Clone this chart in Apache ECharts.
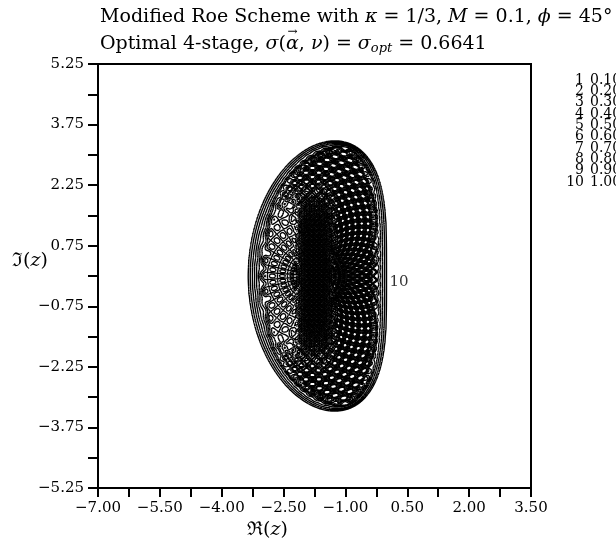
<!DOCTYPE html>
<html>
<head>
<meta charset="utf-8">
<script src="https://cdn.jsdelivr.net/npm/echarts@6/dist/echarts.min.js"></script>
<style>
  html, body { margin: 0; padding: 0; background: #fff; }
  #chart { width: 616px; height: 543px; }
</style>
</head>
<body>
<div id="chart"></div>
<script>
// ---- data -------------------------------------------------------------
// contour levels of the damping field, numbered 1..10 in the key
const levels   = [0.1, 0.2, 0.3, 0.4, 0.5, 0.6, 0.7, 0.8, 0.9, 1.0];
const levelIds = [1, 2, 3, 4, 5, 6, 7, 8, 9, 10];

// axis ticks and labelled ticks
const xTicks  = [-7, -6.25, -5.5, -4.75, -4, -3.25, -2.5, -1.75, -1, -0.25, 0.5, 1.25, 2, 2.75, 3.5];
const xLabels = [-7, -5.5, -4, -2.5, -1, 0.5, 2, 3.5];
const yTicks  = [-5.25, -4.5, -3.75, -3, -2.25, -1.5, -0.75, 0, 0.75, 1.5, 2.25, 3, 3.75, 4.5, 5.25];
const yLabels = [-5.25, -3.75, -2.25, -0.75, 0.75, 2.25, 3.75, 5.25];

// upwind-biased kappa scheme and the scaling of its Fourier footprint
const kappa = 1 / 3;
const footprintScale = [2.52, 2.44];   // real, imaginary

// contour label beside the outermost line: [Re, Im, text]
const contourLabels = [[0.30, -0.15, '10']];

// ---- layout -----------------------------------------------------------
const W = 616, H = 543;
const G = { left: 98, right: 85, top: 64, bottom: 55 };
const X_MIN = -7, X_MAX = 3.5, Y_MIN = -5.25, Y_MAX = 5.25;
const KX = (W - G.left - G.right) / (X_MAX - X_MIN);   // px per unit
const KY = (H - G.top - G.bottom) / (Y_MAX - Y_MIN);

// ---- footprint boundary (outermost contour) ---------------------------
const NB = 360;
const bnd = [];   // [pxX, pxY, theta]
for (let k = 0; k <= NB; k++) {
  const th = -Math.PI + 2 * Math.PI * k / NB;
  const c = Math.cos(th), s = Math.sin(th);
  const re = -footprintScale[0] * (1 - kappa) / 2 * (1 - c) * (1 - c);
  const im = footprintScale[1] * s * (1 + (1 - kappa) / 2 * (1 - c));
  bnd.push([re * KX, im * KY, th]);
}

// damping pattern inside the footprint
const PC = [-1.80, 0];
const sig = t => 1 / (1 + Math.exp(-t));
function interior(x, y) {
  const X = x * KX, Y = y * KY;
  const rx = (x - PC[0]) * KX, ry = (y - PC[1]) * KY;
  const r = Math.hypot(rx, ry), a = Math.atan2(ry, rx);
  const g1 = Math.cos(2 * Math.PI * r / 20) * Math.cos(20 * a);   // fan of cells
  const g2 = Math.cos(2 * Math.PI * X / 5) * Math.cos(2 * Math.PI * Y / 5);     // dense core
  const g3 = Math.cos(2 * Math.PI * r / 9) * Math.cos(50 * a);    // dotted rings
  const wL = sig(-(x + 2.12) / 0.07) * Math.exp(-Math.pow(y / 2.2, 6));
  const wC = Math.exp(-Math.pow((x + 1.72) / 0.44, 4)) * Math.exp(-Math.pow(y / 2.1, 6));
  const wD = Math.max(0, 1 - wL - wC);
  return 0.2 + wL * 0.18 * g1 + wC * 0.34 * g2 + wD * 0.36 * g3;
}

// sample the field on a 1-px lattice
const gx0 = -3.8, gx1 = 0.45, gy0 = -3.7, gy1 = 3.7;
const sx = 1 / KX, sy = 1 / KY;
const nx = Math.ceil((gx1 - gx0) / sx) + 1, ny = Math.ceil((gy1 - gy0) / sy) + 1;
const field = new Float32Array(nx * ny);
for (let j = 0; j < ny; j++) {
  const y = gy0 + j * sy, Y = y * KY;
  for (let i = 0; i < nx; i++) {
    const x = gx0 + i * sx, X = x * KX;
    let best = Infinity, bth = 0, inside = false;
    for (let k = 0; k < NB; k++) {
      const ax = bnd[k][0], ay = bnd[k][1], bx = bnd[k + 1][0], by = bnd[k + 1][1];
      if ((ay > Y) !== (by > Y)) {
        const xc = ax + (Y - ay) * (bx - ax) / (by - ay);
        if (X < xc) inside = !inside;
      }
      const ex = bx - ax, ey = by - ay;
      let t = ((X - ax) * ex + (Y - ay) * ey) / (ex * ex + ey * ey);
      t = t < 0 ? 0 : t > 1 ? 1 : t;
      const qx = ax + t * ex - X, qy = ay + t * ey - Y;
      const d2 = qx * qx + qy * qy;
      if (d2 < best) { best = d2; bth = bnd[k][2]; }
    }
    const d = Math.sqrt(best);
    let v;
    if (!inside) {
      v = 1 + d / 10;
    } else {
      const w = 8 + 9 * Math.pow(Math.abs(Math.cos(bth)), 0.7);
      const t = 1 - d / w;
      let fi = interior(x, y);
      if (t > 0) {
        fi = 0.2 + (fi - 0.2) * (1 - t) * (1 - t);   // calm the pattern near the rim
        v = fi + (1 - fi) * t;
      } else {
        v = fi;
      }
    }
    field[j * nx + i] = v;
  }
}

// marching squares -> line segments in data coordinates
function contour(L, out) {
  for (let j = 0; j < ny - 1; j++) {
    const y = gy0 + j * sy;
    for (let i = 0; i < nx - 1; i++) {
      const x = gx0 + i * sx;
      const v0 = field[j * nx + i], v1 = field[j * nx + i + 1];
      const v2 = field[(j + 1) * nx + i + 1], v3 = field[(j + 1) * nx + i];
      const c = (v0 > L ? 1 : 0) | (v1 > L ? 2 : 0) | (v2 > L ? 4 : 0) | (v3 > L ? 8 : 0);
      if (c === 0 || c === 15) continue;
      const P = (e) => {
        if (e === 0) return [x + sx * (L - v0) / (v1 - v0), y];
        if (e === 1) return [x + sx, y + sy * (L - v1) / (v2 - v1)];
        if (e === 2) return [x + sx * (L - v3) / (v2 - v3), y + sy];
        return [x, y + sy * (L - v0) / (v3 - v0)];
      };
      const seg = (a, b) => out.push({ coords: [P(a), P(b)] });
      const mid = (v0 + v1 + v2 + v3) / 4;
      switch (c) {
        case 1: case 14: seg(3, 0); break;
        case 2: case 13: seg(0, 1); break;
        case 3: case 12: seg(3, 1); break;
        case 4: case 11: seg(1, 2); break;
        case 6: case 9: seg(0, 2); break;
        case 7: case 8: seg(2, 3); break;
        case 5: if (mid > L) { seg(0, 1); seg(2, 3); } else { seg(3, 0); seg(1, 2); } break;
        case 10: if (mid > L) { seg(3, 0); seg(1, 2); } else { seg(0, 1); seg(2, 3); } break;
      }
    }
  }
}
const segs = [];
levels.forEach(L => contour(L, segs));

// ---- chart ------------------------------------------------------------
const SERIF = '"DejaVu Serif", "Liberation Serif", serif';
const fmt = v => (v < 0 ? '\u2212' : '') + Math.abs(v).toFixed(2);

const keyTexts = [];
levels.forEach((L, k) => {
  const y = 81 + k * 11.35;
  keyTexts.push({ type: 'text', right: W - 584, top: y - 8, silent: true,
    style: { text: String(levelIds[k]), font: '14px ' + SERIF, fill: '#000', textAlign: 'right' } });
  keyTexts.push({ type: 'text', left: 590, top: y - 8, silent: true,
    style: { text: L.toFixed(3), font: '14px ' + SERIF, fill: '#000' } });
});

const TF = 19;
const rich = {
  n: { fontFamily: SERIF, fontSize: TF, color: '#000' },
  i: { fontFamily: SERIF, fontSize: TF, fontStyle: 'italic', color: '#000' },
  s: { fontFamily: SERIF, fontSize: 13, fontStyle: 'italic', color: '#000', padding: [9, 0, 0, 0] }
};

// position of the vector arrow over alpha in the second title line
const mctx = document.createElement('canvas').getContext('2d');
const mw = (s, it) => { mctx.font = (it ? 'italic ' : '') + TF + 'px ' + SERIF; return mctx.measureText(s).width; };
const alphaX = 100 + mw('Optimal 4-stage, ') + mw('σ', true) + mw('(');
const alphaW = mw('α', true);

const chart = echarts.init(document.getElementById('chart'), null, { renderer: 'canvas' });
chart.setOption({
  animation: false,
  backgroundColor: '#fff',
  grid: { left: G.left, right: G.right, top: G.top, bottom: G.bottom, show: true, borderColor: '#000', borderWidth: 2, backgroundColor: 'transparent' },
  xAxis: {
    type: 'value', min: X_MIN, max: X_MAX,
    splitLine: { show: false },
    axisLine: { onZero: false, lineStyle: { color: '#000', width: 2 } },
    axisTick: { customValues: xTicks, length: 9, lineStyle: { color: '#000', width: 2 } },
    axisLabel: { customValues: xLabels, formatter: fmt, color: '#000', fontFamily: SERIF, fontSize: 15, margin: 13 }
  },
  yAxis: {
    type: 'value', min: Y_MIN, max: Y_MAX,
    splitLine: { show: false },
    axisLine: { onZero: false, lineStyle: { color: '#000', width: 2 } },
    axisTick: { customValues: yTicks, length: 10, lineStyle: { color: '#000', width: 2 } },
    axisLabel: { customValues: yLabels, formatter: fmt, color: '#000', fontFamily: SERIF, fontSize: 15, margin: 14 }
  },
  series: [
    {
      type: 'lines', coordinateSystem: 'cartesian2d', large: true, largeThreshold: 100,
      silent: true, data: segs,
      lineStyle: { color: '#000', width: 1.4, opacity: 1 }
    },
    {
      type: 'scatter', silent: true, symbolSize: 0,
      data: contourLabels.map(d => ({ value: [d[0], d[1]], label: { formatter: d[2] } })),
      label: { show: true, position: 'inside', color: '#000', fontFamily: SERIF, fontSize: 15 }
    }
  ],
  graphic: [
    { type: 'text', left: 100, top: 8, silent: true,
      style: { rich, text: '{n|Modified Roe Scheme with }{i|κ}{n| = 1/3, }{i|M}{n| = 0.1, }{i|ϕ}{n| = 45°}' } },
    { type: 'text', left: 100, top: 35, silent: true,
      style: { rich, text: '{n|Optimal 4-stage, }{i|σ}{n|(}{i|α}{n|, }{i|ν}{n|) = }{i|σ}{s|opt}{n| = 0.6641}' } },
    { type: 'text', left: alphaX + alphaW / 2 - 5, top: 26, silent: true,
      style: { text: '→', font: '12px ' + SERIF, fill: '#000' } },
    { type: 'text', left: 247, top: 521, silent: true,
      style: { rich: { n: rich.n, i: rich.i }, text: '{n|ℜ(}{i|z}{n|)}' } },
    { type: 'text', left: 12, top: 252, silent: true,
      style: { rich: { n: rich.n, i: rich.i }, text: '{n|ℑ(}{i|z}{n|)}' } },
    ...keyTexts
  ]
});
</script>
</body>
</html>
